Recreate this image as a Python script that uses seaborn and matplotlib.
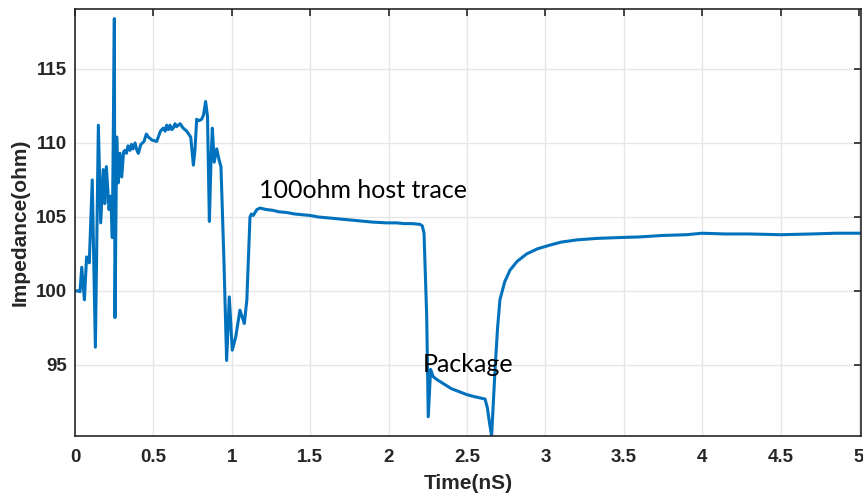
import pandas as pd
import seaborn as sns
import matplotlib.pyplot as plt

# Impedance trace
time_ns = [
    0.0, 0.02, 0.032, 0.043, 0.06, 0.074, 0.085, 0.091, 0.11, 0.13, 0.149,
    0.164, 0.18, 0.19, 0.2, 0.217, 0.228, 0.238, 0.251, 0.255, 0.266, 0.276,
    0.287, 0.298, 0.31, 0.319, 0.328, 0.338, 0.351, 0.36, 0.37, 0.383, 0.395,
    0.404, 0.42, 0.44, 0.455, 0.468, 0.49, 0.521, 0.545, 0.563, 0.575, 0.585,
    0.596, 0.606, 0.617, 0.627, 0.638, 0.648, 0.67, 0.69, 0.712, 0.738, 0.755,
    0.765, 0.776, 0.79, 0.808, 0.82, 0.833, 0.845, 0.857, 0.868, 0.876, 0.888,
    0.904, 0.92, 0.931, 0.95, 0.967, 0.984, 1.003, 1.025, 1.052, 1.08, 1.096,
    1.116, 1.125, 1.137, 1.16, 1.18, 1.22, 1.26, 1.3, 1.35, 1.4, 1.45, 1.5,
    1.55, 1.6, 1.65, 1.7, 1.754, 1.8, 1.85, 1.9, 1.988, 2.05, 2.1, 2.15, 2.2,
    2.215, 2.226, 2.243, 2.253, 2.268, 2.285, 2.31, 2.34, 2.37, 2.4, 2.45,
    2.498, 2.55, 2.615, 2.63, 2.645, 2.657, 2.668, 2.68, 2.695, 2.71, 2.74,
    2.774, 2.82, 2.88, 2.95, 3.03, 3.1, 3.2, 3.327, 3.45, 3.6, 3.75, 3.9, 4.0,
    4.15, 4.3, 4.5, 4.7, 4.85, 5.01,
]
impedance_ohm = [
    100.0, 100.0, 99.95, 101.6, 99.4, 102.3, 102.2, 101.9, 107.5, 96.2, 111.2,
    104.6, 108.2, 105.9, 108.4, 105.5, 106.4, 103.6, 118.4, 98.2, 110.4, 107.3,
    109.3, 107.7, 109.4, 109.5, 109.3, 109.8, 109.5, 109.9, 109.6, 110.0, 109.5,
    109.3, 109.9, 110.1, 110.6, 110.4, 110.2, 110.1, 110.8, 111.0, 110.8, 111.2,
    110.9, 111.2, 110.9, 111.0, 111.3, 111.1, 111.3, 111.0, 110.8, 110.4, 108.5,
    109.5, 111.6, 111.5, 111.6, 111.9, 112.8, 111.8, 104.7, 109.0, 111.0, 108.7,
    109.6, 108.8, 108.4, 102.0, 95.3, 99.6, 96.0, 96.9, 98.7, 97.8, 99.4,
    105.0, 105.2, 105.1, 105.5, 105.6, 105.5, 105.45, 105.35, 105.3, 105.2,
    105.15, 105.1, 105.0, 104.95, 104.9, 104.85, 104.8, 104.75, 104.7, 104.65,
    104.6, 104.6, 104.55, 104.55, 104.5, 104.4, 103.9, 98.3, 91.5, 94.7, 94.2,
    94.0, 93.8, 93.6, 93.4, 93.2, 93.0, 92.85, 92.7, 92.1, 91.0, 90.2, 92.5,
    94.9, 97.5, 99.4, 100.6, 101.4, 102.0, 102.5, 102.85, 103.1, 103.3, 103.45,
    103.55, 103.6, 103.65, 103.75, 103.8, 103.9, 103.85, 103.85, 103.8, 103.85,
    103.9, 103.9,
]

df = pd.DataFrame({"Time": time_ns, "Impedance": impedance_ohm})

sns.set_style("white")
plt.rcParams["font.family"] = ["Liberation Sans", "DejaVu Sans"]

fig = plt.figure(figsize=(8.63, 4.94), dpi=100)
ax = fig.add_axes([0.0869, 0.1174, 0.9108, 0.8644])

sns.lineplot(data=df, x="Time", y="Impedance", color="#0072BD", linewidth=2.2, ax=ax)

ax.set_xlim(0, 5.013)
ax.set_ylim(90.2, 119.05)
ax.set_xticks([0, 0.5, 1, 1.5, 2, 2.5, 3, 3.5, 4, 4.5, 5])
ax.set_xticklabels(["0", "0.5", "1", "1.5", "2", "2.5", "3", "3.5", "4", "4.5", "5"])
ax.set_yticks([95, 100, 105, 110, 115])
ax.grid(True, color="#e6e6e6", linewidth=1.0)
ax.tick_params(direction="in", top=True, right=True, length=5, width=1.2,
               colors="#262626", labelsize=13.5)
ax.tick_params(axis="x", pad=9)
ax.tick_params(axis="y", pad=6)
for lab in ax.get_xticklabels() + ax.get_yticklabels():
    lab.set_fontweight("bold")
for side in ax.spines.values():
    side.set_color("#262626")
    side.set_linewidth(1.2)

ax.set_xlabel("Time(nS)", fontsize=15, fontweight="bold", color="#262626", labelpad=6)
ax.set_ylabel("Impedance(ohm)", fontsize=15, fontweight="bold", color="#262626", labelpad=4)

ax.text(1.173, 106.8, "100ohm host trace", fontsize=18, family="Lato", va="center", color="black")
ax.text(2.22, 95.0, "Package", fontsize=18, family="Lato", va="center", color="black")

fig.savefig("out.png", dpi=100)
